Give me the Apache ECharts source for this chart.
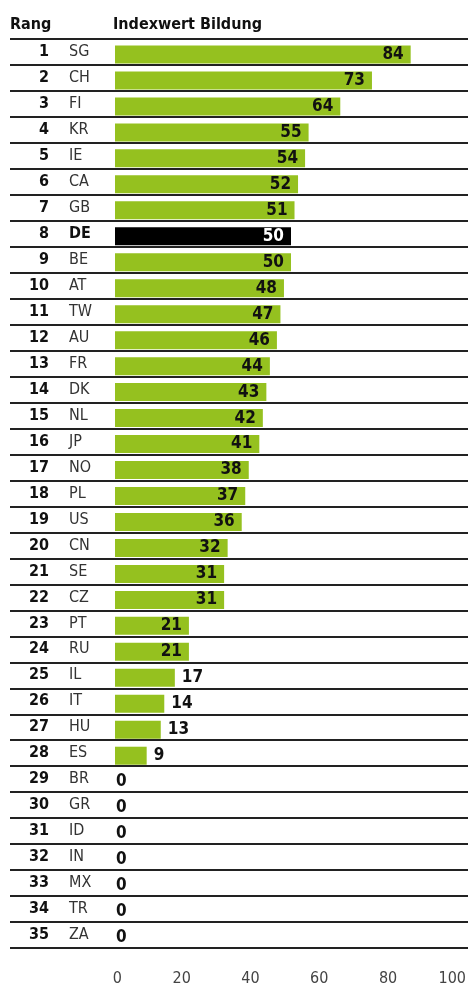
<!DOCTYPE html>
<html>
<head>
<meta charset="utf-8">
<script src="https://cdn.jsdelivr.net/npm/echarts@6/dist/echarts.min.js"></script>
<style>
  html, body { margin: 0; padding: 0; background: #fff; }
  #chart { width: 469px; height: 987px; }
</style>
</head>
<body>
<div id="chart"></div>
<script>
const ranks = [1, 2, 3, 4, 5, 6, 7, 8, 9, 10, 11, 12, 13, 14, 15, 16, 17, 18, 19, 20, 21, 22, 23, 24, 25, 26, 27, 28, 29, 30, 31, 32, 33, 34, 35]
const codes = ['SG', 'CH', 'FI', 'KR', 'IE', 'CA', 'GB', 'DE', 'BE', 'AT', 'TW', 'AU', 'FR', 'DK', 'NL', 'JP', 'NO', 'PL', 'US', 'CN', 'SE', 'CZ', 'PT', 'RU', 'IL', 'IT', 'HU', 'ES', 'BR', 'GR', 'ID', 'IN', 'MX', 'TR', 'ZA']
const values = [84, 73, 64, 55, 54, 52, 51, 50, 50, 48, 47, 46, 44, 43, 42, 41, 38, 37, 36, 32, 31, 31, 21, 21, 17, 14, 13, 9, 0, 0, 0, 0, 0, 0, 0]
const xTicks = [0, 20, 40, 60, 80, 100]
const highlight = 'DE'

const FONT = '"DejaVu Sans Condensed", "DejaVu Sans", sans-serif'
const GREEN = '#95c11f'

const chart = echarts.init(document.getElementById('chart'), null, {renderer: 'canvas'})

// Balken mit Beschriftung
const barData = values.map((v, i) => {
  const isHl = codes[i] === highlight
  const inside = v >= 20
  return {
    value: v,
    itemStyle: {color: isHl ? '#000' : GREEN},
    label: inside
      ? {position: 'insideRight', distance: 7, color: isHl ? '#fff' : '#111'}
      : {position: 'right', distance: v === 0 ? 1 : 7, color: '#111'}
  }
})

const option = {
  animation: false,
  textStyle: {fontFamily: FONT},
  title: [
    {text: 'Rang', left: 5, top: 12, textStyle: {fontFamily: FONT, fontSize: 16, fontWeight: 'bold', color: '#111'}},
    {text: 'Indexwert Bildung', left: 108, top: 12, textStyle: {fontFamily: FONT, fontSize: 16, fontWeight: 'bold', color: '#111'}}
  ],
  grid: [
    // Zeilen + Rang/Land
    {left: 10, right: 1, top: 39, height: 909},
    // Balken
    {left: 115, right: 2, top: 41.5, height: 909},
    // x-Achse Beschriftung
    {left: 122, right: 2, top: 39, height: 909}
  ],
  xAxis: [
    {gridIndex: 0, type: 'value', show: false},
    {gridIndex: 1, type: 'value', min: 0, max: 100, show: false},
    {
      gridIndex: 2, type: 'value', min: 0, max: 100, interval: 20,
      axisLine: {show: false}, axisTick: {show: false}, splitLine: {show: false},
      axisLabel: {
        align: 'right', margin: 24, fontSize: 16, color: '#444', fontFamily: FONT,
        formatter: v => (xTicks.includes(v) ? String(v) : '')
      }
    }
  ],
  yAxis: [
    // Ländercodes + Trennlinien
    {
      gridIndex: 0, type: 'category', inverse: true, data: codes,
      axisLine: {show: false}, axisTick: {show: false},
      splitLine: {show: true, lineStyle: {color: '#222', width: 2}},
      axisLabel: {
        inside: true, margin: 59, interval: 0,
        formatter: val => (val === highlight ? `{b|${val}}` : `{n|${val}}`),
        rich: {
          n: {fontSize: 16, fontWeight: 'normal', color: '#333', fontFamily: FONT},
          b: {fontSize: 16, fontWeight: 'bold', color: '#111', fontFamily: FONT}
        }
      }
    },
    // Rang
    {
      gridIndex: 0, type: 'category', inverse: true, data: ranks.map(String),
      position: 'left', offset: -39,
      axisLine: {show: false}, axisTick: {show: false}, splitLine: {show: false},
      axisLabel: {margin: 0, interval: 0, fontSize: 16, fontWeight: 'bold', color: '#111', fontFamily: FONT}
    },
    {gridIndex: 1, type: 'category', inverse: true, data: codes, show: false},
    {gridIndex: 2, type: 'value', show: false}
  ],
  series: [
    {
      type: 'bar',
      xAxisIndex: 1,
      yAxisIndex: 2,
      barWidth: 18,
      data: barData,
      label: {show: true, fontFamily: FONT, fontSize: 17, fontWeight: 'bold'}
    }
  ]
}

chart.setOption(option)
</script>
</body>
</html>
